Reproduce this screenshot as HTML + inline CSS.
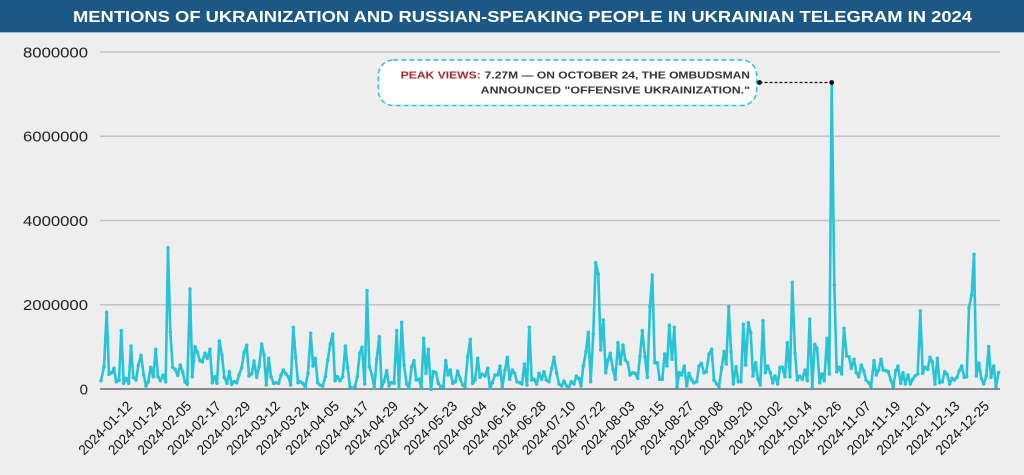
<!DOCTYPE html>
<html>
<head>
<meta charset="utf-8">
<style>
html,body{margin:0;padding:0;background:#eeeeee;}
svg{display:block;}
text{font-family:"Liberation Sans",sans-serif;}
</style>
</head>
<body>
<svg width="1024" height="475" viewBox="0 0 1024 475" xmlns="http://www.w3.org/2000/svg">
<defs>
<marker id="dot" markerUnits="userSpaceOnUse" markerWidth="6" markerHeight="6" refX="3" refY="3" viewBox="0 0 6 6">
<circle cx="3" cy="3" r="1.8" fill="#27c4d7"/>
</marker>
</defs>
<rect x="0" y="0" width="1024" height="475" fill="#eeeeee"/>
<rect x="0" y="0" width="1024" height="32" fill="#1b5886"/>
<line x1="0" y1="32.5" x2="1024" y2="32.5" stroke="#9fb8cc" stroke-width="1"/>
<text x="73" y="22" fill="#ffffff" font-size="15.5" font-weight="bold" textLength="899" lengthAdjust="spacingAndGlyphs">MENTIONS OF UKRAINIZATION AND RUSSIAN-SPEAKING PEOPLE IN UKRAINIAN TELEGRAM IN 2024</text>

<!-- grid -->
<g stroke="#c2c2c2" stroke-width="1.5">
<line x1="100" y1="52" x2="1000" y2="52"/>
<line x1="100" y1="136.3" x2="1000" y2="136.3"/>
<line x1="100" y1="220.5" x2="1000" y2="220.5"/>
<line x1="100" y1="304.8" x2="1000" y2="304.8"/>
</g>
<line x1="100" y1="389" x2="1000" y2="389" stroke="#6a6a6a" stroke-width="1.5"/>

<!-- y labels -->
<g fill="#222" font-size="15" text-anchor="end">
<text x="88" y="57.3" textLength="65" lengthAdjust="spacingAndGlyphs">8000000</text>
<text x="88" y="141.6" textLength="65" lengthAdjust="spacingAndGlyphs">6000000</text>
<text x="88" y="225.8" textLength="65" lengthAdjust="spacingAndGlyphs">4000000</text>
<text x="88" y="310.1" textLength="65" lengthAdjust="spacingAndGlyphs">2000000</text>
<text x="88" y="394.3">0</text>
</g>

<!-- series -->
<polyline fill="none" stroke="#27c4d7" stroke-width="2.6" stroke-linejoin="round" marker-start="url(#dot)" marker-mid="url(#dot)" marker-end="url(#dot)" points="
101,380.7 104,366.7 106.7,312.3 109,374.3 111.7,372.7 114,368.3 116.3,381.7 119,380.3 121.3,330.7 123.7,383.3 126,378.3 128.7,383.3 131,346 133.3,377.3 136,380 138.3,365.3 141,355.3 143.7,375 146,386 148.3,381.7 150.7,367.3 153.3,376.7 155.7,349.3 158,376.7 160.3,380.7 163,375.3 165.7,381.7 168,247.7 170.3,332 172.7,367.3 175,369.3 177.7,375.3 180.3,365 182.7,372 185,382 187.3,384.3 190,289 192.3,376.7 195,346.7 197.3,352 200,360.7 202.3,361.7 205,353.3 207.3,358.3 210,349.3 212.3,382.7 214.7,376.7 217,383.3 219.3,341 222,355.3 224.3,377.3 227,383.3 229.3,371.7 231.7,384.3 234.3,381.7 236.7,382.7 239,375 241.7,367.7 244,352.7 246.7,345.3 249,376 251.7,374
254,361 256.7,377.3 259,366.7 261.7,344 264,355 266.3,385 268.7,358.3 271,376.7 273.7,383.3 276,382.7 278.7,383.3 281,375 283.3,370 286,374 288.3,376.7 290.7,385 293.3,327.3 295.7,356.7 298,382.7 300.3,381.7 302.7,383.3 305.3,387.3 308,373.3 310.7,333.3 313,366 315.3,358.3 317.7,382.7 320,385 322.7,386 325.3,376.7 327.7,360 330.3,344 332.7,334 335,380.7 337.3,376.7 340,380.7 342.7,376.7 345.3,346 347.7,367.7 350,386.7 352.3,388.3 355,386.7 357.3,376.7 359.7,353.3 362,347.3 364.7,384 367,290.7 369.3,366.7 372,375 374.3,388.3 376.7,359 379.3,336.7 381.7,386.7 384,381.7 386.7,370.7 389,386 391.3,382.7 394,383.3 396.7,330.7 399,388.3 401.7,322.3 404,365
406.7,384 409,388.3 411.7,366.7 414,360.7 416.3,380 419,379.3 421.3,387.3 423.7,338.3 426,373.3 428.3,349.3 431,389.3 433.3,371.7 436,372.7 438.3,383.3 440.7,386.7 443.3,386.7 445.7,360.7 448,375 450.3,370 452.7,383.3 455.3,381.7 457.7,371 460.3,379.3 462.7,385 465,386.7 467.7,356.7 470.3,339.3 472.7,383.3 475,380 477.7,358.3 480,377.3 482.3,374.3 485,376 487.7,368.3 490,388.3 492.3,382.7 495,375 497.7,375 500,366 502.3,387.3 505,370 507.3,357.3 509.7,379.3 512.3,370 514.7,373.3 517,381.7 519.7,382.7 522,384 524.3,364 527,385 529.3,327.3 531.7,380 534,379.3 536.7,384 539,373.3 541.7,379.3 544,371.7 546.3,380 549,381.7 551.7,368.3 554,357.3 556.7,373.3 559,384 561.7,386
564,381 566.7,386 569,386.7 571.3,381.7 574,384 576.3,376 578.7,378.3 581,386 583.3,366 586,351.7 588.3,332.3 590.7,381.7 593.3,334 595.7,262.7 598.3,274 600.7,350 603.3,320 605.7,372.7 608,360 610.3,353.3 613,369.3 615.3,379.3 618,342.7 620.3,364 623,345 625.3,360 627.7,362.7 630,375 632.7,372.7 635,373.3 637.7,378.3 640,356 642.3,330.7 645,356.7 647.3,377.3 650,306.7 652.3,275 654.7,362.7 657.3,362.7 659.7,379.3 662.3,379.3 664.7,354 667,366 669.3,325 672,359.3 674.3,327.3 677,386.7 679.3,372.7 681.7,375 684.3,366 686.7,386 689,373.3 691.7,380 694,382.7 696.7,381.7 699,366 701.3,363.3 704,372.7 706.3,371.7 709,354 711.7,349.3 714,380 716.7,384
719,386.7 721.7,367.7 724,351.7 726.3,364 728.7,306.7 731,351.7 733.3,384 736,366.7 738.3,381.7 741,381.7 743.3,324.3 745.7,365 748.3,322.7 750.7,332.7 753,376 755.7,362.7 758,379.3 760.3,385 763,320.7 765.3,372.7 767.7,366 770.3,372.7 772.7,382.7 775,376 777.7,384 780,367.3 782.3,367.3 785,376.7 787.3,342.7 790,376.7 792.3,282.3 795,353.3 797.3,380 799.7,376 802.3,379.3 805,370 807.3,380.7 809.7,319 812.3,387.3 814.7,344.3 817,348.3 819.7,382.7 822,374 824.3,380.7 827,338.3 829.3,374 831.7,82.7 834.3,285 836.7,371.7 839,367.3 841.7,374 844,328.3 846.7,356 849,356.7 851.3,368.3 854,359.3 856.3,372.7 858.7,376.7 861.3,365 863.7,370.7 866,380 868.7,382.7 871,386.7
874,360.7 876.3,375 878.7,370 881,359.3 883.3,370 886,370.7 888.3,371.7 890.7,380 893.3,386.7 895.7,370.7 898,366 900.7,383.3 903,372.7 905.3,384 908,375 910.3,384 912.7,379.3 915,376 917.7,374 920.3,311 922.7,373.3 925,367.3 927.7,369.3 930,357.3 932.3,361.7 935,384 937.3,358.3 939.7,382.7 942.3,381.7 944.7,371.7 947,374 949.7,384 952,378.3 954.3,380 957,377.3 959.3,370.7 961.7,366 964.3,377.3 966.7,376.7 969,307.7 971.7,295 974,254.3 976.3,376 979,363.3 981.3,378.3 983.7,384 986.3,376 988.7,346.7 991,377.3 993.7,366 996,386.7 998.6,372.5"/>

<!-- annotation -->
<rect x="378.3" y="60" width="378.4" height="45.5" rx="15" ry="15" fill="#ffffff" stroke="#27c4d7" stroke-width="1.5" stroke-dasharray="5,3"/>
<text x="400.7" y="78.3" fill="#a8242a" font-size="10.3" font-weight="bold" textLength="80" lengthAdjust="spacingAndGlyphs">PEAK VIEWS:</text>
<text x="484.7" y="78.3" fill="#333333" font-size="10.3" font-weight="bold" textLength="265.3" lengthAdjust="spacingAndGlyphs">7.27M — ON OCTOBER 24, THE OMBUDSMAN</text>
<text x="480.7" y="93.3" fill="#333333" font-size="10.3" font-weight="bold" textLength="269.3" lengthAdjust="spacingAndGlyphs">ANNOUNCED "OFFENSIVE UKRAINIZATION."</text>
<line x1="759.5" y1="82.5" x2="831.7" y2="82.5" stroke="#111" stroke-width="1.2" stroke-dasharray="3,2"/>
<circle cx="759.5" cy="82.5" r="2.4" fill="#111"/>
<circle cx="831.7" cy="82.5" r="2.4" fill="#111"/>

<!-- x labels -->
<g fill="#111" font-size="14" text-anchor="end">
<text transform="translate(133.1,407) rotate(-45)" textLength="69" lengthAdjust="spacingAndGlyphs">2024-01-12</text>
<text transform="translate(162.7,407) rotate(-45)" textLength="69" lengthAdjust="spacingAndGlyphs">2024-01-24</text>
<text transform="translate(192.2,407) rotate(-45)" textLength="69" lengthAdjust="spacingAndGlyphs">2024-02-05</text>
<text transform="translate(221.8,407) rotate(-45)" textLength="69" lengthAdjust="spacingAndGlyphs">2024-02-17</text>
<text transform="translate(251.3,407) rotate(-45)" textLength="69" lengthAdjust="spacingAndGlyphs">2024-02-29</text>
<text transform="translate(280.9,407) rotate(-45)" textLength="69" lengthAdjust="spacingAndGlyphs">2024-03-12</text>
<text transform="translate(310.4,407) rotate(-45)" textLength="69" lengthAdjust="spacingAndGlyphs">2024-03-24</text>
<text transform="translate(340.0,407) rotate(-45)" textLength="69" lengthAdjust="spacingAndGlyphs">2024-04-05</text>
<text transform="translate(369.5,407) rotate(-45)" textLength="69" lengthAdjust="spacingAndGlyphs">2024-04-17</text>
<text transform="translate(399.1,407) rotate(-45)" textLength="69" lengthAdjust="spacingAndGlyphs">2024-04-29</text>
<text transform="translate(428.6,407) rotate(-45)" textLength="69" lengthAdjust="spacingAndGlyphs">2024-05-11</text>
<text transform="translate(458.2,407) rotate(-45)" textLength="69" lengthAdjust="spacingAndGlyphs">2024-05-23</text>
<text transform="translate(487.7,407) rotate(-45)" textLength="69" lengthAdjust="spacingAndGlyphs">2024-06-04</text>
<text transform="translate(517.3,407) rotate(-45)" textLength="69" lengthAdjust="spacingAndGlyphs">2024-06-16</text>
<text transform="translate(546.8,407) rotate(-45)" textLength="69" lengthAdjust="spacingAndGlyphs">2024-06-28</text>
<text transform="translate(576.4,407) rotate(-45)" textLength="69" lengthAdjust="spacingAndGlyphs">2024-07-10</text>
<text transform="translate(605.9,407) rotate(-45)" textLength="69" lengthAdjust="spacingAndGlyphs">2024-07-22</text>
<text transform="translate(635.5,407) rotate(-45)" textLength="69" lengthAdjust="spacingAndGlyphs">2024-08-03</text>
<text transform="translate(665.0,407) rotate(-45)" textLength="69" lengthAdjust="spacingAndGlyphs">2024-08-15</text>
<text transform="translate(694.6,407) rotate(-45)" textLength="69" lengthAdjust="spacingAndGlyphs">2024-08-27</text>
<text transform="translate(724.1,407) rotate(-45)" textLength="69" lengthAdjust="spacingAndGlyphs">2024-09-08</text>
<text transform="translate(753.7,407) rotate(-45)" textLength="69" lengthAdjust="spacingAndGlyphs">2024-09-20</text>
<text transform="translate(783.2,407) rotate(-45)" textLength="69" lengthAdjust="spacingAndGlyphs">2024-10-02</text>
<text transform="translate(812.8,407) rotate(-45)" textLength="69" lengthAdjust="spacingAndGlyphs">2024-10-14</text>
<text transform="translate(842.3,407) rotate(-45)" textLength="69" lengthAdjust="spacingAndGlyphs">2024-10-26</text>
<text transform="translate(871.9,407) rotate(-45)" textLength="69" lengthAdjust="spacingAndGlyphs">2024-11-07</text>
<text transform="translate(901.4,407) rotate(-45)" textLength="69" lengthAdjust="spacingAndGlyphs">2024-11-19</text>
<text transform="translate(931.0,407) rotate(-45)" textLength="69" lengthAdjust="spacingAndGlyphs">2024-12-01</text>
<text transform="translate(960.5,407) rotate(-45)" textLength="69" lengthAdjust="spacingAndGlyphs">2024-12-13</text>
<text transform="translate(990.1,407) rotate(-45)" textLength="69" lengthAdjust="spacingAndGlyphs">2024-12-25</text>
</g>
</svg>
</body>
</html>
